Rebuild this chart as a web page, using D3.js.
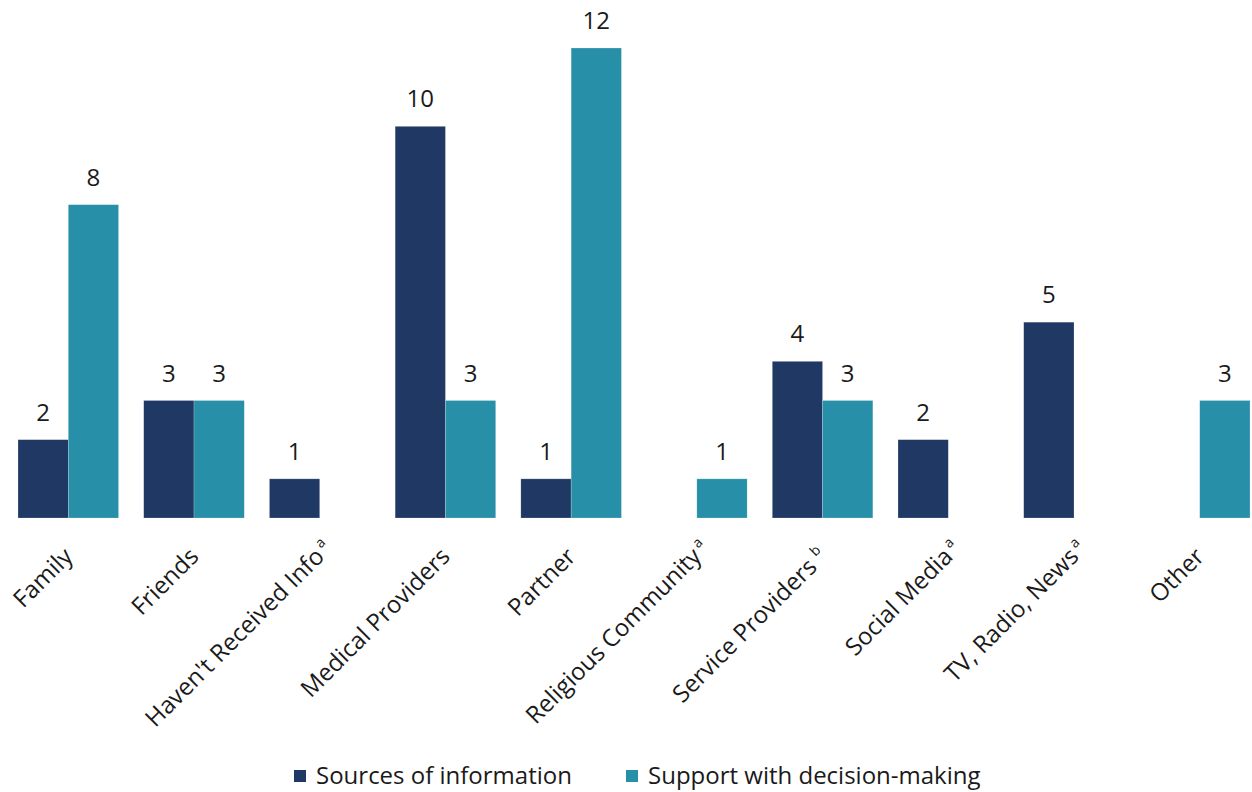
<!DOCTYPE html>
<html>
<head>
<meta charset="utf-8">
<script src="https://cdn.jsdelivr.net/npm/d3@7"></script>
<style>
  html, body { margin: 0; padding: 0; background: #fff; }
  svg text { font-family: "Open Sans", Lato, sans-serif; fill: #1a1a1a; }
</style>
</head>
<body>
<svg id="chart" width="1252" height="792"></svg>
<script>
// Category names and optional footnote markers
const categories = ["Family", "Friends", "Haven't Received Info", "Medical Providers", "Partner",
  "Religious Community", "Service Providers", "Social Media", "TV, Radio, News", "Other"];
const footnotes = ["", "", "a", "", "", "a", "b", "a", "a", ""];

// Counts per series (null = no bar)
const sourcesOfInformation = [2, 3, 1, 10, 1, null, 4, 2, 5, null];
const supportWithDecision = [8, 3, null, 3, 12, 1, 3, null, null, 3];

const seriesNames = ["Sources of information", "Support with decision-making"];
const seriesColors = ["#203864", "#288FA8"];

const svg = d3.select("#chart");
const baseY = 518, topY = 48;
const fontSize = 24;

const x = d3.scaleBand().domain(categories).range([18, 1250]).paddingInner(0.2).paddingOuter(0);
const xs = d3.scaleBand().domain([0, 1]).range([0, x.bandwidth()]);
const y = d3.scaleLinear().domain([0, 12]).range([baseY, topY]);

const seriesData = [sourcesOfInformation, supportWithDecision];

seriesData.forEach((vals, si) => {
  const g = svg.append("g");
  const pts = categories.map((c, i) => ({ c, v: vals[i] })).filter(d => d.v != null);
  g.selectAll("rect").data(pts).join("rect")
    .attr("x", d => x(d.c) + xs(si))
    .attr("y", d => y(d.v))
    .attr("width", xs.bandwidth())
    .attr("height", d => baseY - y(d.v))
    .attr("fill", seriesColors[si])
    .attr("stroke", "rgba(255,255,255,0.35)")
    .attr("stroke-width", 0.6);
  g.selectAll("text").data(pts).join("text")
    .attr("x", d => x(d.c) + xs(si) + xs.bandwidth() / 2)
    .attr("y", d => y(d.v) - 19)
    .attr("text-anchor", "middle")
    .attr("font-size", fontSize)
    .text(d => d.v);
});

// Rotated category labels; an "a" marker hangs past the label end,
// a "b" marker is set after a space and counted in the label's length.
const labelG = svg.append("g").selectAll("g").data(categories).join("g")
  .attr("transform", d => `translate(${x(d) + x.bandwidth() / 2 + 6},${baseY + 40}) rotate(-45)`);
const mainText = labelG.append("text")
  .attr("text-anchor", "end")
  .attr("font-size", fontSize);
mainText.append("tspan").text(d => d);
mainText.filter((d, i) => footnotes[i] === "b").append("tspan")
  .attr("font-size", 14).attr("dx", 6).attr("dy", -10).text("b");
labelG.filter((d, i) => footnotes[i] === "a").append("text")
  .attr("x", 3).attr("y", -10)
  .attr("font-size", 14)
  .text("a");

// Legend
const legend = svg.append("g");
const legendX = [294, 626];
seriesNames.forEach((n, i) => {
  legend.append("rect").attr("x", legendX[i]).attr("y", 770).attr("width", 12).attr("height", 12)
    .attr("fill", seriesColors[i]);
  legend.append("text").attr("x", legendX[i] + 22).attr("y", 784).attr("font-size", fontSize).text(n);
});
</script>
</body>
</html>
